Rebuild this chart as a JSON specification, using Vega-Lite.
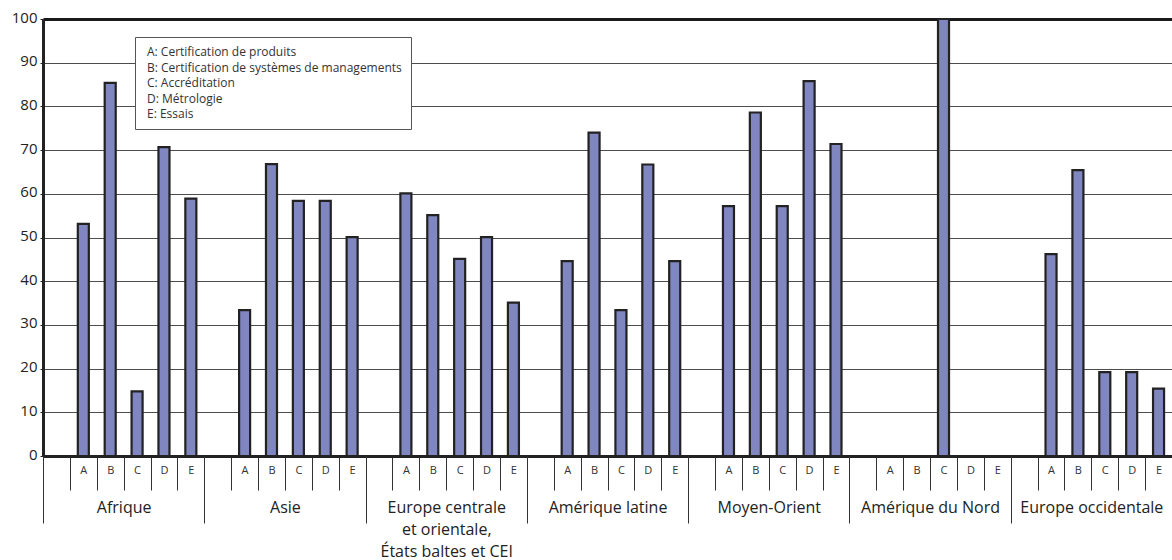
{
  "$schema": "https://vega.github.io/schema/vega-lite/v6.json",
  "autosize": "none",
  "padding": {"left": 43, "top": 19, "right": 0, "bottom": 104},
  "width": 1129,
  "height": 437,
  "background": "white",
  "config": {
    "font": "Open Sans",
    "view": {"stroke": null}
  },
  "datasets": {
    "taux": [
      {"region": "Afrique", "critere": "A", "slot": "Afrique|A", "valeur": 53.1},
      {"region": "Afrique", "critere": "B", "slot": "Afrique|B", "valeur": 85.4},
      {"region": "Afrique", "critere": "C", "slot": "Afrique|C", "valeur": 14.8},
      {"region": "Afrique", "critere": "D", "slot": "Afrique|D", "valeur": 70.7},
      {"region": "Afrique", "critere": "E", "slot": "Afrique|E", "valeur": 58.9},
      {"region": "Asie", "critere": "A", "slot": "Asie|A", "valeur": 33.4},
      {"region": "Asie", "critere": "B", "slot": "Asie|B", "valeur": 66.8},
      {"region": "Asie", "critere": "C", "slot": "Asie|C", "valeur": 58.4},
      {"region": "Asie", "critere": "D", "slot": "Asie|D", "valeur": 58.4},
      {"region": "Asie", "critere": "E", "slot": "Asie|E", "valeur": 50.1},
      {"region": "Europe centrale et orientale, États baltes et CEI", "critere": "A", "slot": "Europe centrale et orientale, États baltes et CEI|A", "valeur": 60.1},
      {"region": "Europe centrale et orientale, États baltes et CEI", "critere": "B", "slot": "Europe centrale et orientale, États baltes et CEI|B", "valeur": 55.1},
      {"region": "Europe centrale et orientale, États baltes et CEI", "critere": "C", "slot": "Europe centrale et orientale, États baltes et CEI|C", "valeur": 45.1},
      {"region": "Europe centrale et orientale, États baltes et CEI", "critere": "D", "slot": "Europe centrale et orientale, États baltes et CEI|D", "valeur": 50.1},
      {"region": "Europe centrale et orientale, États baltes et CEI", "critere": "E", "slot": "Europe centrale et orientale, États baltes et CEI|E", "valeur": 35.1},
      {"region": "Amérique latine", "critere": "A", "slot": "Amérique latine|A", "valeur": 44.6},
      {"region": "Amérique latine", "critere": "B", "slot": "Amérique latine|B", "valeur": 74.0},
      {"region": "Amérique latine", "critere": "C", "slot": "Amérique latine|C", "valeur": 33.4},
      {"region": "Amérique latine", "critere": "D", "slot": "Amérique latine|D", "valeur": 66.7},
      {"region": "Amérique latine", "critere": "E", "slot": "Amérique latine|E", "valeur": 44.6},
      {"region": "Moyen-Orient", "critere": "A", "slot": "Moyen-Orient|A", "valeur": 57.2},
      {"region": "Moyen-Orient", "critere": "B", "slot": "Moyen-Orient|B", "valeur": 78.6},
      {"region": "Moyen-Orient", "critere": "C", "slot": "Moyen-Orient|C", "valeur": 57.2},
      {"region": "Moyen-Orient", "critere": "D", "slot": "Moyen-Orient|D", "valeur": 85.8},
      {"region": "Moyen-Orient", "critere": "E", "slot": "Moyen-Orient|E", "valeur": 71.4},
      {"region": "Amérique du Nord", "critere": "C", "slot": "Amérique du Nord|C", "valeur": 100},
      {"region": "Europe occidentale", "critere": "A", "slot": "Europe occidentale|A", "valeur": 46.2},
      {"region": "Europe occidentale", "critere": "B", "slot": "Europe occidentale|B", "valeur": 65.4},
      {"region": "Europe occidentale", "critere": "C", "slot": "Europe occidentale|C", "valeur": 19.2},
      {"region": "Europe occidentale", "critere": "D", "slot": "Europe occidentale|D", "valeur": 19.2},
      {"region": "Europe occidentale", "critere": "E", "slot": "Europe occidentale|E", "valeur": 15.4}
    ]
  },
  "data": {"name": "taux"},
  "layer": [
    {
      "mark": {"type": "bar", "width": {"band": 0.41}, "stroke": "#222222", "strokeWidth": 2.2},
      "encoding": {
        "x": {
          "field": "slot",
          "type": "nominal",
          "scale": {
            "paddingInner": 0,
            "paddingOuter": 0,
            "domain": [
              "Afrique|", "Afrique|A", "Afrique|B", "Afrique|C", "Afrique|D", "Afrique|E",
              "Asie|", "Asie|A", "Asie|B", "Asie|C", "Asie|D", "Asie|E",
              "Europe centrale et orientale, États baltes et CEI|", "Europe centrale et orientale, États baltes et CEI|A", "Europe centrale et orientale, États baltes et CEI|B", "Europe centrale et orientale, États baltes et CEI|C", "Europe centrale et orientale, États baltes et CEI|D", "Europe centrale et orientale, États baltes et CEI|E",
              "Amérique latine|", "Amérique latine|A", "Amérique latine|B", "Amérique latine|C", "Amérique latine|D", "Amérique latine|E",
              "Moyen-Orient|", "Moyen-Orient|A", "Moyen-Orient|B", "Moyen-Orient|C", "Moyen-Orient|D", "Moyen-Orient|E",
              "Amérique du Nord|", "Amérique du Nord|A", "Amérique du Nord|B", "Amérique du Nord|C", "Amérique du Nord|D", "Amérique du Nord|E",
              "Europe occidentale|", "Europe occidentale|A", "Europe occidentale|B", "Europe occidentale|C", "Europe occidentale|D", "Europe occidentale|E"
            ]
          },
          "axis": {
            "title": null,
            "orient": "bottom",
            "labelAngle": 0,
            "labelExpr": "split(datum.value, '|')[1]",
            "labelFontSize": 11,
            "labelColor": "#333333",
            "labelBaseline": "middle",
            "labelPadding": -19.5,
            "tickBand": "extent",
            "tickSize": 34,
            "tickColor": "#333333",
            "tickWidth": 1,
            "domainColor": "#222222",
            "domainWidth": 3,
            "grid": false
          }
        },
        "y": {
          "field": "valeur",
          "type": "quantitative",
          "scale": {"domain": [0, 100], "nice": false},
          "axis": {
            "title": null,
            "values": [0, 10, 20, 30, 40, 50, 60, 70, 80, 90, 100],
            "labelFontSize": 15,
            "labelColor": "#222222",
            "labelPadding": 3,
            "labelOffset": -2,
            "tickSize": 3,
            "tickColor": "#222222",
            "domainColor": "#222222",
            "domainWidth": 3,
            "grid": true,
            "gridColor": {"condition": {"test": "datum.value === 100", "value": "#1a1a1a"}, "value": "#4d4d4d"},
            "gridWidth": {"condition": {"test": "datum.value === 100", "value": 3}, "value": 1},
            "gridOpacity": 1
          }
        },
        "color": {
          "field": "critere",
          "type": "nominal",
          "scale": {
            "domain": ["A", "B", "C", "D", "E"],
            "range": ["#7f86c0", "#7f86c0", "#7f86c0", "#7f86c0", "#7f86c0"]
          },
          "legend": {
            "title": null,
            "orient": "none",
            "legendX": 92,
            "legendY": 18,
            "labelExpr": "{'A': 'A: Certification de produits', 'B': 'B: Certification de systèmes de managements', 'C': 'C: Accréditation', 'D': 'D: Métrologie', 'E': 'E: Essais'}[datum.value]",
            "symbolSize": 0,
            "symbolOpacity": 0,
            "symbolStrokeWidth": 0,
            "labelOffset": -9,
            "labelFontSize": 12,
            "labelColor": "#333333",
            "labelLimit": 400,
            "rowPadding": 3.5,
            "padding": 9,
            "strokeColor": "#555555",
            "fillColor": "white"
          }
        }
      }
    },
    {
      "mark": {"type": "rule", "opacity": 0},
      "encoding": {
        "x": {
          "field": "region",
          "type": "nominal",
          "scale": {
            "paddingInner": 0,
            "paddingOuter": 0,
            "domain": ["Afrique", "Asie", "Europe centrale et orientale, États baltes et CEI", "Amérique latine", "Moyen-Orient", "Amérique du Nord", "Europe occidentale"]
          },
          "axis": {
            "title": null,
            "orient": "bottom",
            "labelAngle": 0,
            "labelExpr": "datum.value === 'Europe centrale et orientale, États baltes et CEI' ? ['Europe centrale', 'et orientale,', 'États baltes et CEI'] : datum.value",
            "labelFontSize": 16,
            "labelColor": "#222222",
            "labelBaseline": "alphabetic",
            "labelLineHeight": 22,
            "labelPadding": -11,
            "labelLimit": 200,
            "tickBand": "extent",
            "tickSize": 67,
            "tickColor": "#333333",
            "tickWidth": 1,
            "domain": false,
            "grid": false
          }
        }
      }
    }
  ],
  "resolve": {"scale": {"x": "independent"}, "axis": {"x": "independent"}}
}
